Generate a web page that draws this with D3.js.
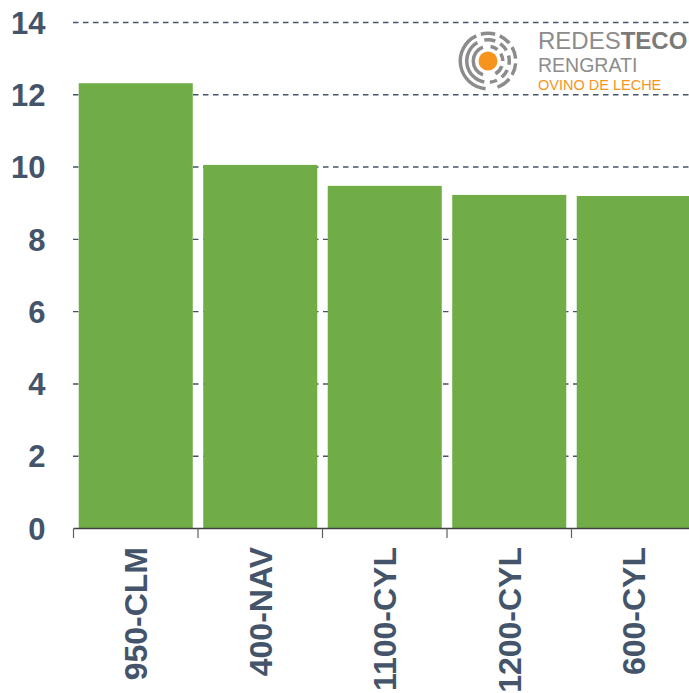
<!DOCTYPE html>
<html><head><meta charset="utf-8">
<script src="https://cdn.jsdelivr.net/npm/d3@7"></script>
<style>body{margin:0;background:#fff;} svg{display:block;}</style>
</head><body>
<script>
const categories = ["950-CLM","400-NAV","1100-CYL","1200-CYL","600-CYL"];
const values = [12.32, 10.06, 9.48, 9.23, 9.20];
const yTicks = [0,2,4,6,8,10,12,14];

const W = 689, H = 693;
const svg = d3.select("body").append("svg").attr("width", W).attr("height", H);
const textColor = "#44546A";

const x = d3.scaleBand().domain(categories).range([73.5, 696]).paddingInner(0.084).paddingOuter(0.042);
const y = d3.scaleLinear().domain([0, 14]).range([528.5, 22.5]);

// gridlines
svg.append("g").selectAll("line").data(yTicks.filter(d => d > 0)).join("line")
  .attr("x1", 73).attr("x2", W).attr("y1", d => y(d)).attr("y2", d => y(d))
  .attr("stroke", "#44546A").attr("stroke-width", 1.4).attr("stroke-dasharray", "5.5,4.5");

// y labels
svg.append("g").selectAll("text").data(yTicks).join("text")
  .attr("x", 45.5).attr("y", d => y(d)).attr("dy", "0.36em")
  .attr("text-anchor", "end").attr("fill", textColor)
  .attr("font-family", "Liberation Sans, Arial, sans-serif").attr("font-weight", "bold").attr("font-size", 31)
  .text(d => d);

// bars
svg.append("g").selectAll("rect").data(values).join("rect")
  .attr("x", (d, i) => x(categories[i])).attr("width", x.bandwidth())
  .attr("y", d => y(d)).attr("height", d => y(0) - y(d))
  .attr("fill", "#70AD47");

// x axis line and band ticks
svg.append("line").attr("x1", 73.5).attr("x2", W).attr("y1", 528.5).attr("y2", 528.5)
  .attr("stroke", "#404040").attr("stroke-width", 1.3);
const step = x.step();
svg.append("g").selectAll("line").data(categories).join("line")
  .attr("x1", (d) => x(d) - x.paddingInner() * step / 2).attr("x2", (d) => x(d) - x.paddingInner() * step / 2)
  .attr("y1", 528.5).attr("y2", 538)
  .attr("stroke", "#606060").attr("stroke-width", 1.2);

// x labels
svg.append("g").selectAll("text").data(categories).join("text")
  .attr("transform", d => `translate(${x(d) + x.bandwidth() / 2},547) rotate(-90)`)
  .attr("dy", "0.36em").attr("text-anchor", "end").attr("fill", textColor)
  .attr("font-family", "Liberation Sans, Arial, sans-serif").attr("font-weight", "bold").attr("font-size", 32)
  .text(d => d);

// logo
const logo = svg.append("g");
const cx = 488, cy = 61;
const arc = d3.arc();
const grey = "#8c8c8c";
const deg = Math.PI / 180;
const rings = [
  {r0: 13, r1: 16.5, segs: [[200, 340], [10, 40], [60, 90], [110, 150]]},
  {r0: 19.5, r1: 23, segs: [[190, 330], [350, 20], [35, 60], [75, 100], [115, 140], [155, 175]]},
  {r0: 26, r1: 29.5, segs: [[185, 335], [345, 15], [25, 50], [60, 85], [95, 120], [130, 160]]}
];
rings.forEach(rg => rg.segs.forEach(s => {
  let a0 = s[0], a1 = s[1];
  if (a1 < a0) a1 += 360;
  logo.append("path").attr("transform", `translate(${cx},${cy})`)
    .attr("d", arc({innerRadius: rg.r0, outerRadius: rg.r1, startAngle: a0 * deg, endAngle: a1 * deg}))
    .attr("fill", grey);
}));
logo.append("circle").attr("cx", cx).attr("cy", cy).attr("r", 9.5).attr("fill", "#F7941D");

const t1 = logo.append("text").attr("x", 538).attr("y", 49).attr("font-family", "Liberation Sans, Arial, sans-serif").attr("font-size", 24);
t1.append("tspan").attr("fill", "#8c8c8c").attr("font-weight", "normal").text("REDES");
t1.append("tspan").attr("fill", "#7a7a7a").attr("font-weight", "bold").text("TECO");
logo.append("text").attr("x", 538).attr("y", 71.5).attr("font-family", "Liberation Sans, Arial, sans-serif").attr("font-size", 19.5)
  .attr("fill", "#8c8c8c").text("RENGRATI");
logo.append("text").attr("x", 538).attr("y", 89.5).attr("font-family", "Liberation Sans, Arial, sans-serif").attr("font-size", 14.5)
  .attr("fill", "#F7941D").text("OVINO DE LECHE");
</script>
</body></html>
